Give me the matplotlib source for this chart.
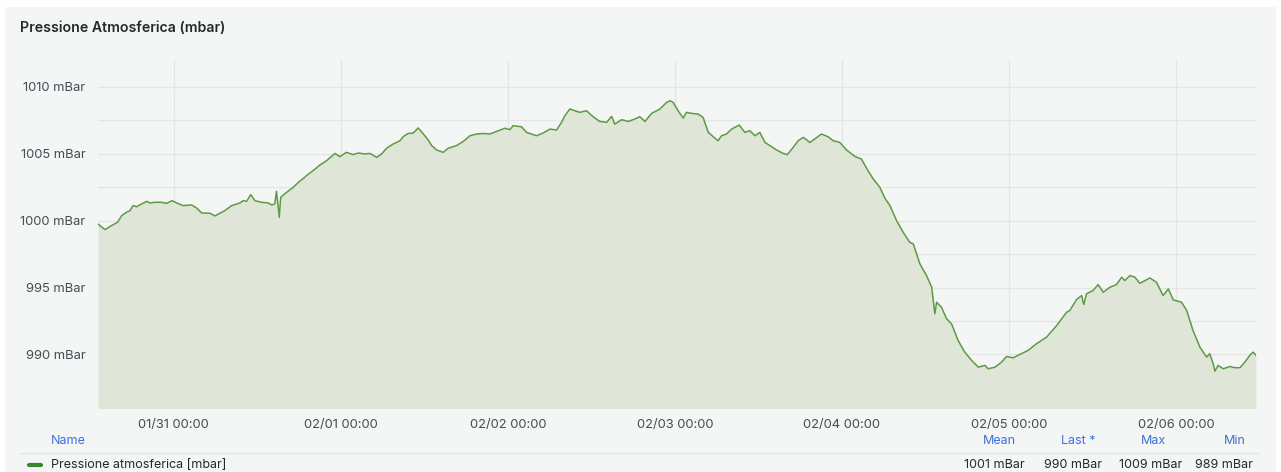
import matplotlib
matplotlib.use("Agg")
import matplotlib.pyplot as plt
import matplotlib.dates as mdates
from matplotlib.patches import Rectangle
from matplotlib.lines import Line2D
import numpy as np
import pandas as pd

# hours since 01/31 00:00 and pressure (mbar)
hours = [-10.9, -9.9, -8.95, -8.1, -7.5, -6.8, -6.3, -5.85, -5.35, -4.65, -3.9, -3.45, -2.75, -1.75, -1.05,
         -0.25, 0.4, 1.35, 2.55, 3.25, 4.0, 5.2, 5.9, 6.6, 7.35, 8.3, 9.5, 9.95, 10.45, 11.05, 11.65,
         12.6, 13.55, 14.05, 14.5, 14.75, 14.95, 15.15, 15.35, 16.2, 17.15, 18.1, 18.8, 19.05, 20.0,
         21.0, 21.95, 22.65, 23.15, 23.85, 24.8, 25.75, 26.5, 27.45, 28.15, 29.15, 29.85, 30.55, 31.5,
         32.5, 32.95, 33.65, 34.4, 35.1, 35.8, 36.55, 37.05, 37.75, 38.7, 39.4, 40.6, 41.55, 42.55,
         43.5, 44.45, 45.4, 46.35, 47.55, 48.3, 48.75, 49.95, 50.7, 52.1, 53.05, 54.05, 55.0, 55.7,
         56.2, 56.9, 57.6, 58.35, 59.3, 60.25, 61.2, 62.2, 62.9, 63.35, 64.35, 65.3, 66.25, 66.95,
         67.7, 68.65, 69.85, 70.8, 71.3, 71.75, 72.45, 73.2, 73.65, 74.4, 75.35, 76.05, 76.8, 77.5,
         78.2, 78.7, 79.4, 80.15, 81.25, 82.05, 82.75, 83.5, 84.2, 84.95, 85.65, 86.6, 87.55, 88.15,
         89.0, 89.7, 90.45, 91.4, 92.1, 93.05, 94.0, 94.75, 95.7, 96.65, 97.85, 98.8, 99.75, 100.5,
         101.45, 102.15, 102.9, 103.85, 104.8, 105.75, 106.25, 107.2, 108.15, 108.9, 109.35, 109.6,
         110.3, 111.05, 111.75, 112.7, 113.65, 114.65, 115.6, 116.55, 117.0, 118.0, 118.95, 119.65,
         120.6, 121.55, 122.75, 123.95, 125.4, 126.85, 128.3, 128.75, 129.7, 130.45, 130.75, 131.15,
         132.1, 132.8, 133.55, 134.5, 135.45, 136.2, 136.65, 137.4, 138.1, 138.8, 139.55, 140.25,
         141.2, 142.15, 142.9, 143.6, 144.8, 145.55, 146.45, 147.45, 148.4, 148.85, 149.35, 149.6,
         150.05, 150.8, 151.75, 152.45, 153.2, 153.9, 154.6, 155.1, 155.5]
pressure = [999.75, 999.33, 999.63, 999.87, 1000.37, 1000.62, 1000.75, 1001.12, 1001.04, 1001.24, 1001.44,
            1001.32, 1001.37, 1001.37, 1001.29, 1001.49, 1001.32, 1001.12, 1001.17, 1000.95, 1000.57,
            1000.55, 1000.35, 1000.55, 1000.75, 1001.12, 1001.32, 1001.49, 1001.44, 1001.94, 1001.49,
            1001.37, 1001.32, 1001.17, 1001.24, 1002.19, 1001.24, 1000.25, 1001.74, 1002.11, 1002.49,
            1002.95, 1003.23, 1003.36, 1003.73, 1004.16, 1004.48, 1004.80, 1005.02, 1004.78, 1005.10,
            1004.93, 1005.05, 1004.98, 1005.02, 1004.73, 1004.98, 1005.40, 1005.72, 1005.97, 1006.27,
            1006.51, 1006.54, 1006.92, 1006.51, 1006.02, 1005.60, 1005.28, 1005.10, 1005.40, 1005.60,
            1005.90, 1006.34, 1006.47, 1006.51, 1006.47, 1006.66, 1006.90, 1006.80, 1007.09, 1007.01,
            1006.59, 1006.34, 1006.54, 1006.84, 1006.77, 1007.34, 1007.84, 1008.34, 1008.21, 1008.09,
            1008.21, 1007.76, 1007.41, 1007.34, 1007.79, 1007.21, 1007.54, 1007.41, 1007.59, 1007.76,
            1007.41, 1008.01, 1008.34, 1008.83, 1008.96, 1008.83, 1008.21, 1007.66, 1008.09, 1008.01,
            1007.96, 1007.71, 1006.59, 1006.27, 1005.97, 1006.34, 1006.47, 1006.84, 1007.14, 1006.59,
            1006.72, 1006.34, 1006.59, 1005.84, 1005.60, 1005.28, 1005.02, 1004.93, 1005.47, 1005.97,
            1006.22, 1005.84, 1006.10, 1006.47, 1006.27, 1005.97, 1005.84, 1005.28, 1004.80, 1004.60,
            1003.73, 1003.11, 1002.49, 1001.70, 1001.12, 1000.00, 999.13, 998.38, 998.26, 996.77,
            995.90, 995.02, 993.04, 993.90, 993.53, 992.66, 992.29, 991.04, 990.17, 989.55, 989.05,
            989.18, 988.93, 989.05, 989.43, 989.85, 989.75, 990.00, 990.30, 990.80, 991.29, 992.16,
            993.16, 993.28, 994.10, 994.40, 993.73, 994.53, 994.78, 995.22, 994.65, 995.02, 995.22,
            995.77, 995.52, 995.90, 995.77, 995.32, 995.52, 995.72, 995.39, 994.40, 994.90, 994.08,
            993.90, 993.28, 991.79, 990.54, 989.80, 990.05, 989.31, 988.75, 989.18, 988.93, 989.10,
            989.01, 989.01, 989.43, 989.93, 990.17, 989.93]

ytick_values = [990, 995, 1000, 1005, 1010]
xtick_days = ["2024-01-31", "2024-02-01", "2024-02-02", "2024-02-03", "2024-02-04", "2024-02-05", "2024-02-06"]
legend_name = "Pressione atmosferica [mbar]"
stat_names = ["Mean", "Last *", "Max", "Min"]
stat_values = ["1001 mBar", "990 mBar", "1009 mBar", "989 mBar"]

times = pd.Timestamp("2024-01-31") + pd.to_timedelta(hours, unit="h")

plt.rcParams['font.family'] = ['Inter', 'DejaVu Sans']

W, H = 1281, 472
fig = plt.figure(figsize=(W / 100, H / 100), dpi=100, facecolor="white")
fig.patches.append(Rectangle((5 / W, 0), 1 - 10 / W, 1 - 7 / H, transform=fig.transFigure,
                             facecolor="#f4f5f5", edgecolor="none", zorder=-10))

ax = fig.add_axes([98 / W, 1 - 408 / H, (1256 - 98) / W, (408 - 60) / H])
ax.set_facecolor("#f4f5f5")
line_color = "#5e9a44"
ax.fill_between(times, pressure, 985, color="#dfe6d8", lw=0)
ax.plot(times, pressure, color=line_color, lw=1.1)

ax.set_xlim(times[0], times[-1])
ax.set_ylim(986, 1012)
ax.set_yticks(ytick_values)
ax.set_yticklabels([f"{v} mBar" for v in ytick_values])
ax.set_yticks(np.arange(987.5, 1012, 5), minor=True)
ax.set_xticks(pd.to_datetime(xtick_days))
ax.xaxis.set_major_formatter(mdates.DateFormatter("%m/%d %H:%M"))
ax.tick_params(axis="both", which="both", length=0, labelsize=9.3, labelcolor="#464c54")
ax.tick_params(axis="y", pad=9)
ax.tick_params(axis="x", pad=8)
ax.grid(True, which="both", color="#e4e6e6", lw=0.9)
ax.set_axisbelow(True)
for s in ax.spines.values():
    s.set_visible(False)

fig.text(20 / W, 1 - 28 / H, "Pressione Atmosferica (mbar)", fontsize=10.2, fontweight="semibold",
         color="#24292e", va="center", ha="left")

# legend table
fig.text(51 / W, 1 - 441 / H, "Name", fontsize=9, color="#3d71d9", va="center")
fig.add_artist(Line2D([20 / W, 1258 / W], [1 - 453 / H, 1 - 453 / H], color="#e2e4e4", lw=0.9))
fig.add_artist(Line2D([29 / W, 41 / W], [1 - 465 / H, 1 - 465 / H], color="#37872d", lw=3,
                      solid_capstyle="round"))
fig.text(51 / W, 1 - 465 / H, legend_name, fontsize=9, color="#24292e", va="center")
head_x = [999, 1078, 1153, 1235]
val_x = [994, 1073, 1151, 1224]
for name, val, hx, vx in zip(stat_names, stat_values, head_x, val_x):
    fig.text(hx / W, 1 - 441 / H, name, fontsize=9, color="#3d71d9", va="center", ha="center")
    fig.text(vx / W, 1 - 465 / H, val, fontsize=9, color="#24292e", va="center", ha="center")

fig.savefig("out.png", dpi=100, facecolor=fig.get_facecolor())
